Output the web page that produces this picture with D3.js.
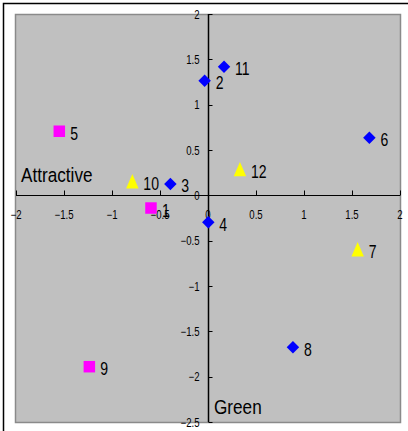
<!DOCTYPE html>
<html>
<head>
<meta charset="utf-8">
<script src="https://cdn.jsdelivr.net/npm/d3@7"></script>
<style>
  html, body { margin: 0; padding: 0; background: #fff; }
  svg { display: block; }
  text { font-family: "Liberation Sans", Arial, sans-serif; fill: #000; }
</style>
</head>
<body>
<div id="chart"></div>
<script>
// ---- data ----
const xTicks = [-2, -1.5, -1, -0.5, 0, 0.5, 1, 1.5, 2];
const yTicks = [2, 1.5, 1, 0.5, 0, -0.5, -1, -1.5, -2, -2.5];

const diamondIds = ["2", "3", "4", "6", "8", "11"];
const diamondX = [-0.035, -0.392, 0.003, 1.681, 0.885, 0.167];
const diamondY = [1.264, 0.126, -0.298, 0.634, -1.675, 1.419];

const squareIds = ["1", "5", "9"];
const squareX = [-0.594, -1.549, -1.236];
const squareY = [-0.14, 0.707, -1.89];

const triangleIds = ["7", "10", "12"];
const triangleX = [1.559, -0.788, 0.333];
const triangleY = [-0.595, 0.155, 0.29];

const axisNames = { x: "Attractive", y: "Green" };

// ---- layout ----
const W = 408, H = 431;
const plot = { left: 16, right: 400, top: 14, bottom: 422 };

const svg = d3.select("#chart").append("svg").attr("width", W).attr("height", H);

// outer frame (black top/left, extends beyond the view)
svg.append("rect").attr("x", 3.5).attr("y", 3.5).attr("width", W + 10).attr("height", H + 10)
  .attr("fill", "#fff").attr("stroke", "#000").attr("stroke-width", 1.5);

const x = d3.scaleLinear().domain([-2, 2]).range([plot.left, plot.right]);
const y = d3.scaleLinear().domain([-2.5, 2]).range([plot.bottom, plot.top]);

// plot area
svg.append("rect").attr("x", plot.left - 0.5).attr("y", plot.top + 0.5)
  .attr("width", plot.right - plot.left + 1).attr("height", plot.bottom - plot.top)
  .attr("fill", "#C0C0C0").attr("stroke", "#8a8a8a").attr("stroke-width", 1.5);

const fmt = d3.format("");

// x axis (ticks upward, labels below)
const xAxis = svg.append("g").attr("transform", `translate(0,${Math.round(y(0)) + 0.5})`);
xAxis.append("line").attr("x1", x(-2)).attr("x2", x(2)).attr("stroke", "#000").attr("stroke-width", 1.2);
xAxis.selectAll("line.tick").data(xTicks).enter().append("line")
  .attr("class", "tick")
  .attr("x1", d => Math.round(x(d)) + 0.5).attr("x2", d => Math.round(x(d)) + 0.5)
  .attr("y1", 0).attr("y2", -5).attr("stroke", "#000").attr("stroke-width", 1);
xAxis.selectAll("text").data(xTicks).enter().append("text")
  .attr("transform", d => `translate(${x(d)},23) scale(0.8,1)`)
  .attr("text-anchor", "middle").style("font-size", "12px")
  .text(d => fmt(d));

// y axis (ticks to the right, labels left)
const yAxis = svg.append("g").attr("transform", `translate(${Math.round(x(0)) + 0.5},0)`);
yAxis.append("line").attr("y1", y(2)).attr("y2", y(-2.5)).attr("stroke", "#000").attr("stroke-width", 1.5);
yAxis.selectAll("line.tick").data(yTicks).enter().append("line")
  .attr("class", "tick")
  .attr("y1", d => Math.round(y(d)) + 0.5).attr("y2", d => Math.round(y(d)) + 0.5)
  .attr("x1", 0).attr("x2", 4).attr("stroke", "#000").attr("stroke-width", 1);
yAxis.selectAll("text").data(yTicks).enter().append("text")
  .attr("transform", d => `translate(-9,${y(d) + 4.5}) scale(0.8,1)`)
  .attr("text-anchor", "end").style("font-size", "12px")
  .text(d => fmt(d));

// axis names
svg.append("text").attr("transform", "translate(21,182) scale(0.88,1)")
  .style("font-size", "19.5px").text(axisNames.x);
svg.append("text").attr("transform", "translate(214,414) scale(0.88,1)")
  .style("font-size", "19.5px").text(axisNames.y);

// marker shapes
const diamondSym = d3.symbol().type(d3.symbolSquare).size(78);
const squareSym = d3.symbol().type(d3.symbolSquare).size(132);
const triType = {
  draw(ctx, size) {
    const w = Math.sqrt(size), h = w * 1.15;
    ctx.moveTo(0, -h / 2);
    ctx.lineTo(w / 2, h / 2);
    ctx.lineTo(-w / 2, h / 2);
    ctx.closePath();
  }
};
const triSym = d3.symbol().type(triType).size(155);

function series(ids, xs, ys, sym, color, rotate) {
  const data = ids.map((id, i) => ({ id, x: xs[i], y: ys[i] }));
  const g = svg.append("g");
  g.selectAll("path").data(data).enter().append("path")
    .attr("d", sym)
    .attr("transform", d => `translate(${x(d.x)},${y(d.y)})` + (rotate ? " rotate(45)" : ""))
    .attr("fill", color);
  return data;
}

const all = []
  .concat(series(diamondIds, diamondX, diamondY, diamondSym, "#0000FF", true))
  .concat(series(squareIds, squareX, squareY, squareSym, "#FF00FF", false))
  .concat(series(triangleIds, triangleX, triangleY, triSym, "#FFFF00", false));

svg.append("g").selectAll("text").data(all).enter().append("text")
  .attr("transform", d => `translate(${x(d.x) + 11},${y(d.y) + 8.5}) scale(0.78,1)`)
  .style("font-size", "18px")
  .text(d => d.id);
</script>
</body>
</html>
